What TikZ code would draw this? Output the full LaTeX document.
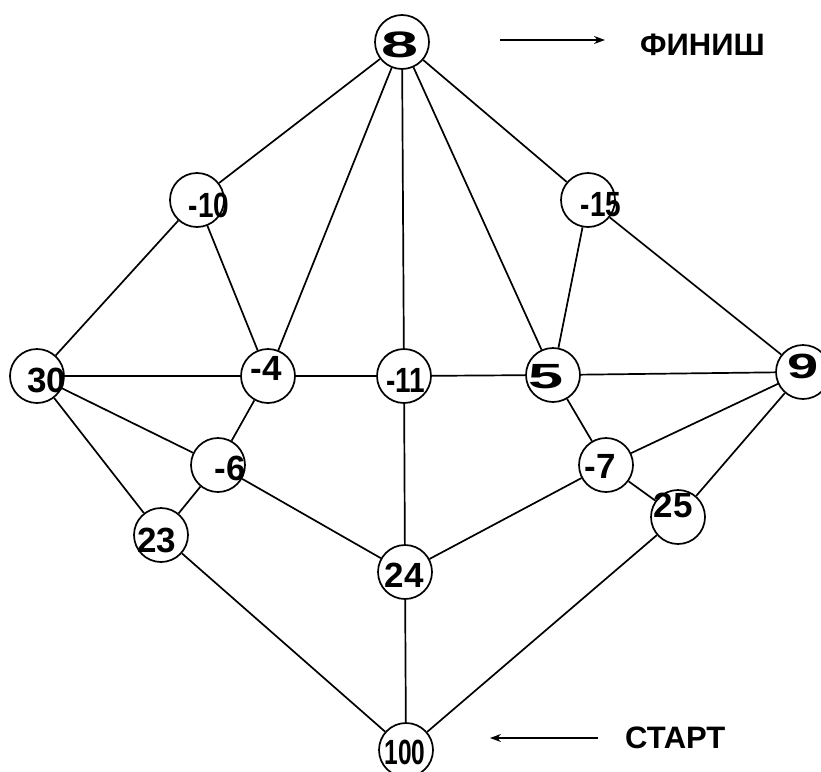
\documentclass[tikz,border=0pt]{standalone}
\usepackage{fontspec}
\setmainfont{Liberation Sans}
\usetikzlibrary{arrows.meta}
\tikzset{
  vert/.style={circle, draw, line width=1.7pt, minimum size=54pt, inner sep=0pt},
  lbl/.style={font=\fontsize{35}{35}\selectfont\bfseries, inner sep=0pt},
  word/.style={font=\fontsize{31}{31}\selectfont\bfseries, inner sep=0pt, anchor=west},
  edge/.style={line width=1.7pt},
  pointer/.style={line width=1.6pt, -{Stealth[length=11pt,width=8pt]}}
}
\begin{document}
\begin{tikzpicture}[x=1pt,y=-1pt]
\useasboundingbox[fill=white] (0,0) rectangle (821,771);
% vertices
\node[vert] (v8)   at (402,42)  {};
\node[vert] (vm10) at (197,200) {};
\node[vert] (vm15) at (588,200) {};
\node[vert] (v30)  at (37,376)  {};
\node[vert] (vm4)  at (268,376) {};
\node[vert] (vm11) at (404,376) {};
\node[vert] (v5)   at (553,375) {};
\node[vert] (v9)   at (803,372) {};
\node[vert] (vm6)  at (218,465) {};
\node[vert] (vm7)  at (606,465) {};
\node[vert] (v23)  at (161,535) {};
\node[vert] (v25)  at (678,517) {};
\node[vert] (v24)  at (405,572) {};
\node[vert] (v100) at (406,750) {};
% labels
\node[lbl] (t8)   at (400,45)  {\scalebox{1.9}[1.05]{8}};
\node[lbl] (tm10) at (209,205) {\scalebox{0.8}[1]{-10}};
\node[lbl] (tm15) at (601,205) {\scalebox{0.8}[1]{-15}};
\node[lbl] (t30)  at (47,380)  {30};
\node[lbl] (tm4)  at (266,368) {-4};
\node[lbl] (tm11) at (406,380) {\scalebox{0.8}[1]{-11}};
\node[lbl] (t5)   at (546,377) {\scalebox{1.8}[1]{5}};
\node[lbl] (t9)   at (803,366) {\scalebox{1.6}[1]{9}};
\node[lbl] (tm6)  at (230,468) {-6};
\node[lbl] (tm7)  at (600,466) {-7};
\node[lbl] (t23)  at (157,540) {23};
\node[lbl] (t25)  at (673,505) {25};
\node[lbl] (t24)  at (404,575) {24};
\node[lbl] (t100) at (405,752) {\scalebox{0.7}[1]{100}};
% edges
\draw[edge] (v8) -- (vm10);
\draw[edge] (v8) -- (vm4);
\draw[edge] (v8) -- (vm11);
\draw[edge] (v8) -- (v5);
\draw[edge] (v8) -- (vm15);
\draw[edge] (vm10) -- (v30);
\draw[edge] (vm10) -- (vm4);
\draw[edge] (vm15) -- (v5);
\draw[edge] (vm15) -- (v9);
\draw[edge] (v30) -- (vm4);
\draw[edge] (vm4) -- (vm11);
\draw[edge] (vm11) -- (v5);
\draw[edge] (v5) -- (v9);
\draw[edge] (v30) -- (vm6);
\draw[edge] (v30) -- (v23);
\draw[edge] (vm4) -- (vm6);
\draw[edge] (vm6) -- (v23);
\draw[edge] (vm6) -- (v24);
\draw[edge] (vm11) -- (v24);
\draw[edge] (v5) -- (vm7);
\draw[edge] (v9) -- (vm7);
\draw[edge] (v9) -- (v25);
\draw[edge] (vm7) -- (v25);
\draw[edge] (vm7) -- (v24);
\draw[edge] (v23) -- (v100);
\draw[edge] (v24) -- (v100);
\draw[edge] (v25) -- (v100);
% finish / start
\node[word] (fin) at (640,45) {ФИНИШ};
\node[word] (start) at (625,738) {СТАРТ};
\coordinate (finTail) at (500,40);
\coordinate (finHead) at (605,40);
\coordinate (startTail) at (598,738);
\coordinate (startHead) at (490,738);
\draw[pointer] (finTail) -- (finHead);
\draw[pointer] (startTail) -- (startHead);
\end{tikzpicture}
\end{document}
